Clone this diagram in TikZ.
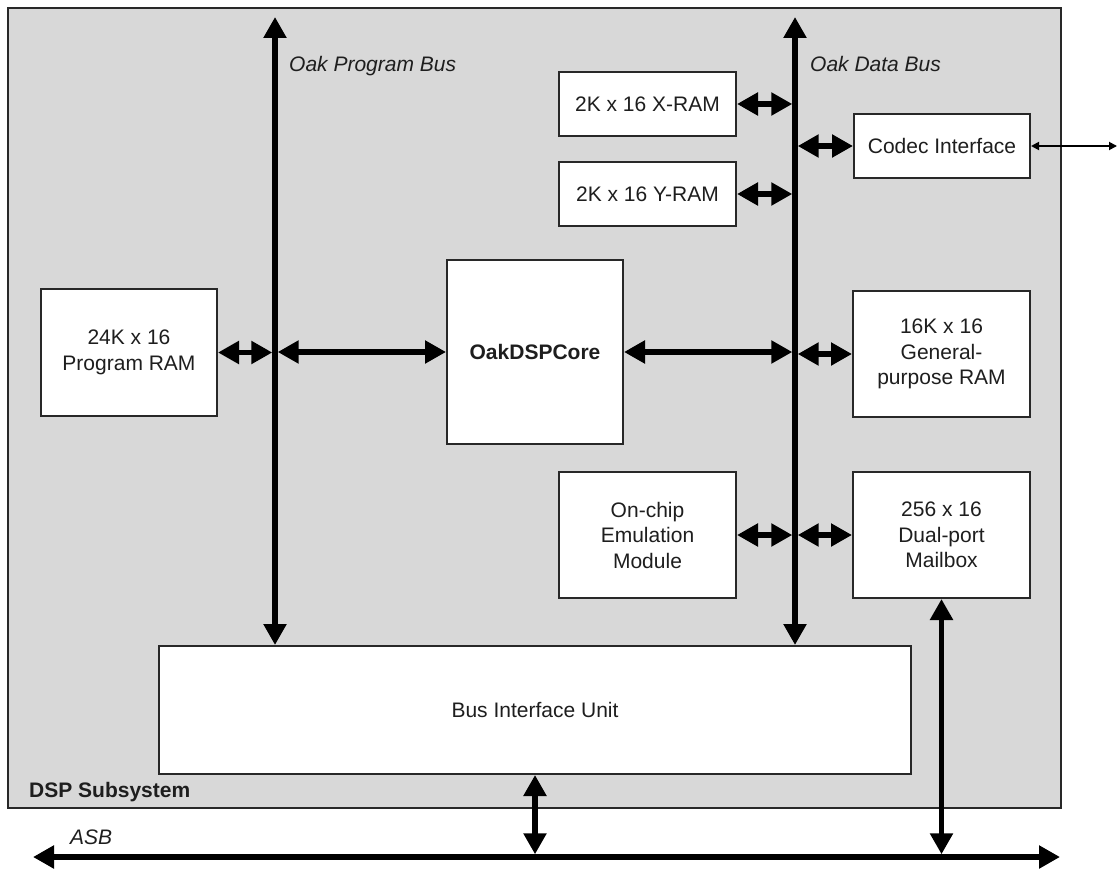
\documentclass[tikz,border=0pt]{standalone}
\usepackage{fontspec}
\setmainfont{Liberation Sans}
\usetikzlibrary{arrows.meta}
\definecolor{panel}{RGB}{216,216,216}
\definecolor{edge}{RGB}{40,40,40}
\definecolor{ink}{RGB}{30,30,30}
\begin{document}
\begin{tikzpicture}[x=1pt,y=-1pt,
  txt/.style={font=\fontsize{21}{25.5}\selectfont, text=ink},
  box/.style={txt, draw=edge, line width=2pt, fill=white, inner sep=0pt, align=center},
  dbl/.style={line width=5.5pt, {Triangle[length=21pt,width=22pt]}-{Triangle[length=21pt,width=22pt]}},
  thinarrow/.style={line width=1.8pt, {Triangle[length=8pt,width=8pt]}-{Triangle[length=8pt,width=8pt]}},
  lbl/.style={txt, inner sep=0pt, anchor=base west, font=\fontsize{21}{25.5}\selectfont\itshape},
]
\useasboundingbox (0,0) rectangle (1118,869);

% outer subsystem panel
\node[draw=edge, fill=panel, line width=2.2pt, minimum width=1053pt, minimum height=800pt, inner sep=0pt] (dsp) at (534.5,408) {};
\node[txt, inner sep=0pt, anchor=base west, font=\fontsize{21}{25.5}\selectfont\bfseries] (dsplbl) at (29,797) {DSP Subsystem};

% blocks
\node[box, minimum width=177pt, minimum height=64pt] (xram) at (647.5,104) {2K x 16 X-RAM};
\node[box, minimum width=177pt, minimum height=64pt] (yram) at (647.5,194) {2K x 16 Y-RAM};
\node[box, minimum width=176pt, minimum height=64pt] (codec) at (942,146) {Codec Interface};
\node[box, minimum width=176pt, minimum height=127pt] (pram) at (129,352.5) {24K x 16\\Program RAM};
\node[box, minimum width=176pt, minimum height=184pt, font=\fontsize{21}{25.5}\selectfont\bfseries] (core) at (535,352) {OakDSPCore};
\node[box, minimum width=177pt, minimum height=126pt] (gpram) at (941.5,354) {16K x 16\\General-\\purpose RAM};
\node[box, minimum width=177pt, minimum height=126pt] (emu) at (647.5,535) {On-chip\\Emulation\\Module};
\node[box, minimum width=177pt, minimum height=126pt] (mbox) at (941.5,535) {256 x 16\\Dual-port\\Mailbox};
\node[box, minimum width=752pt, minimum height=128pt] (biu) at (535,710) {Bus Interface Unit};

% bus labels
\node[lbl] (opb) at (289,72) {Oak Program Bus};
\node[lbl] (odb) at (810,72) {Oak Data Bus};
\node[lbl] (asb) at (70,844) {ASB};

% bus reference coordinates
\coordinate (pbtop) at (275,17);
\coordinate (dbtop) at (795,17);
\coordinate (pbL) at (272.3,0);
\coordinate (pbR) at (277.7,0);
\coordinate (dbL) at (792.3,0);
\coordinate (dbR) at (797.7,0);
\coordinate (asbL) at (33,857);
\coordinate (asbR) at (1060,857);
\coordinate (asbTop) at (0,854.3);
\coordinate (ext) at (1117,146);

% vertical buses
\draw[dbl] (pbtop) -- (pbtop |- biu.north);
\draw[dbl] (dbtop) -- (dbtop |- biu.north);

% program-bus connections
\draw[dbl] (pram.east) -- (pram.east -| pbL);
\draw[dbl] (core.west -| pbR) -- (core.west);

% data-bus connections
\draw[dbl] (core.east) -- (core.east -| dbL);
\draw[dbl] (gpram.west -| dbR) -- (gpram.west);
\draw[dbl] (xram.east) -- (xram.east -| dbL);
\draw[dbl] (yram.east) -- (yram.east -| dbL);
\draw[dbl] (codec.west -| dbR) -- (codec.west);
\draw[dbl] (emu.east) -- (emu.east -| dbL);
\draw[dbl] (mbox.west -| dbR) -- (mbox.west);

% codec external link
\draw[thinarrow] (codec.east) -- (ext);

% ASB
\draw[dbl] (asbL) -- (asbR);
\draw[dbl] (biu.south) -- (biu.south |- asbTop);
\draw[dbl] (mbox.south) -- (mbox.south |- asbTop);
\end{tikzpicture}
\end{document}
